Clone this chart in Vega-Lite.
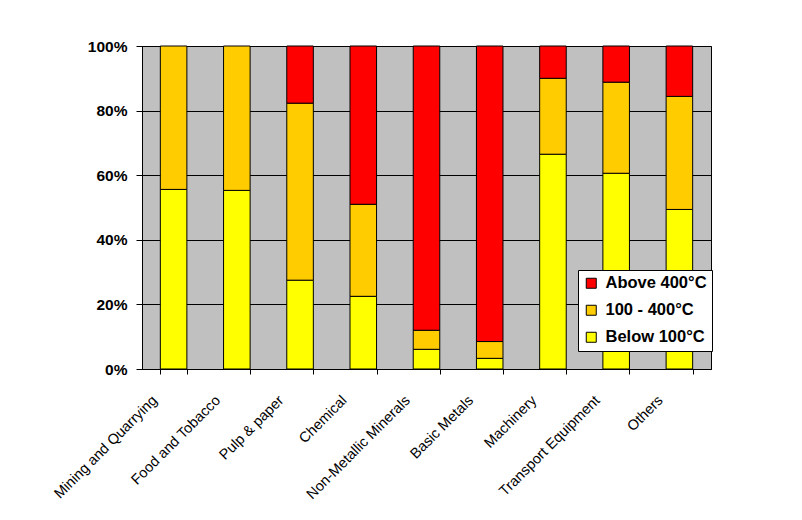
{
  "$schema": "https://vega.github.io/schema/vega-lite/v6.json",
  "width": 569,
  "height": 323,
  "autosize": {"type": "none"},
  "padding": {"left": 142, "top": 46, "right": 91, "bottom": 151},
  "background": "white",
  "config": {
    "view": {"fill": "#C0C0C0", "stroke": "black", "strokeWidth": 1},
    "font": "Liberation Sans"
  },
  "data": {
    "values": [
      {"sector": "Mining and Quarrying", "range": "Below 100°C", "ord": 1, "share": 0.556},
      {"sector": "Mining and Quarrying", "range": "100 - 400°C", "ord": 2, "share": 0.444},
      {"sector": "Food and Tobacco", "range": "Below 100°C", "ord": 1, "share": 0.553},
      {"sector": "Food and Tobacco", "range": "100 - 400°C", "ord": 2, "share": 0.447},
      {"sector": "Pulp & paper", "range": "Below 100°C", "ord": 1, "share": 0.275},
      {"sector": "Pulp & paper", "range": "100 - 400°C", "ord": 2, "share": 0.548},
      {"sector": "Pulp & paper", "range": "Above 400°C", "ord": 3, "share": 0.177},
      {"sector": "Chemical", "range": "Below 100°C", "ord": 1, "share": 0.225},
      {"sector": "Chemical", "range": "100 - 400°C", "ord": 2, "share": 0.285},
      {"sector": "Chemical", "range": "Above 400°C", "ord": 3, "share": 0.49},
      {"sector": "Non-Metallic Minerals", "range": "Below 100°C", "ord": 1, "share": 0.061},
      {"sector": "Non-Metallic Minerals", "range": "100 - 400°C", "ord": 2, "share": 0.059},
      {"sector": "Non-Metallic Minerals", "range": "Above 400°C", "ord": 3, "share": 0.88},
      {"sector": "Basic Metals", "range": "Below 100°C", "ord": 1, "share": 0.033},
      {"sector": "Basic Metals", "range": "100 - 400°C", "ord": 2, "share": 0.052},
      {"sector": "Basic Metals", "range": "Above 400°C", "ord": 3, "share": 0.915},
      {"sector": "Machinery", "range": "Below 100°C", "ord": 1, "share": 0.665},
      {"sector": "Machinery", "range": "100 - 400°C", "ord": 2, "share": 0.235},
      {"sector": "Machinery", "range": "Above 400°C", "ord": 3, "share": 0.1},
      {"sector": "Transport Equipment", "range": "Below 100°C", "ord": 1, "share": 0.606},
      {"sector": "Transport Equipment", "range": "100 - 400°C", "ord": 2, "share": 0.282},
      {"sector": "Transport Equipment", "range": "Above 400°C", "ord": 3, "share": 0.112},
      {"sector": "Others", "range": "Below 100°C", "ord": 1, "share": 0.494},
      {"sector": "Others", "range": "100 - 400°C", "ord": 2, "share": 0.35},
      {"sector": "Others", "range": "Above 400°C", "ord": 3, "share": 0.156}
    ]
  },
  "mark": {"type": "bar", "stroke": "black", "strokeWidth": 1},
  "encoding": {
    "x": {
      "field": "sector",
      "type": "nominal",
      "sort": null,
      "scale": {"paddingInner": 0.58, "paddingOuter": 0.29},
      "axis": {
        "title": null,
        "labelAngle": -45,
        "labelAlign": "right",
        "labelBaseline": "middle",
        "labelFont": "Liberation Sans",
        "labelFontSize": 14.5,
        "labelColor": "black",
        "labelPadding": 24,
        "labelOffset": -19,
        "tickBand": "extent",
        "tickColor": "black",
        "tickSize": 5,
        "domainColor": "black",
        "grid": false
      }
    },
    "y": {
      "field": "share",
      "type": "quantitative",
      "stack": "zero",
      "scale": {"domain": [0, 1], "nice": false},
      "axis": {
        "title": null,
        "format": ".0%",
        "values": [0, 0.2, 0.4, 0.6, 0.8, 1],
        "labelFont": "Liberation Sans",
        "labelFontSize": 15.5,
        "labelFontWeight": "bold",
        "labelColor": "black",
        "labelPadding": 9,
        "tickColor": "black",
        "tickSize": 6,
        "domainColor": "black",
        "grid": true,
        "gridColor": "black",
        "gridOpacity": 1,
        "gridWidth": 1
      }
    },
    "color": {
      "field": "range",
      "type": "nominal",
      "scale": {
        "domain": ["Above 400°C", "100 - 400°C", "Below 100°C"],
        "range": ["#FF0000", "#FFCC00", "#FFFF00"]
      },
      "legend": {
        "title": null,
        "orient": "none",
        "legendX": 436,
        "legendY": 224,
        "fillColor": "white",
        "strokeColor": "black",
        "padding": 5,
        "symbolType": "square",
        "symbolSize": 100,
        "symbolStrokeColor": "black",
        "symbolStrokeWidth": 1,
        "symbolOpacity": 1,
        "labelFont": "Liberation Sans",
        "labelFontSize": 16.5,
        "labelFontWeight": "bold",
        "labelColor": "black",
        "rowPadding": 10,
        "labelOffset": 6
      }
    },
    "order": {"field": "ord", "type": "quantitative"}
  }
}
